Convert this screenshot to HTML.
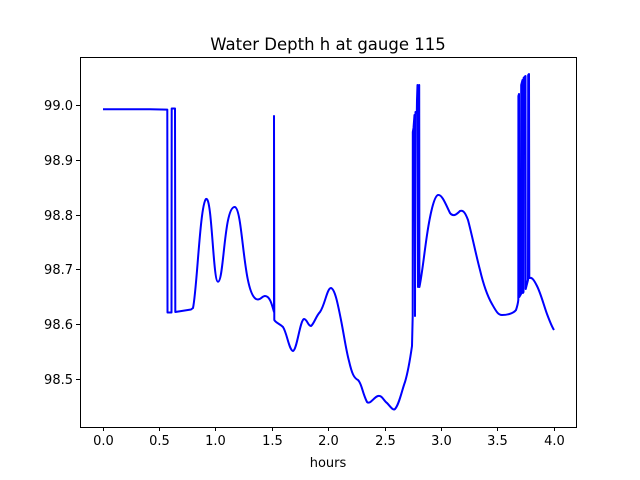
<!DOCTYPE html>
<html><head><style>
body{margin:0;background:#fff;}
svg{display:block;font-family:"DejaVu Sans","Liberation Sans",sans-serif;}
</style></head><body>
<svg width="640" height="480" xmlns="http://www.w3.org/2000/svg">
<rect width="640" height="480" fill="#fff"/>
<path fill="none" stroke="#0000ff" stroke-width="2" stroke-linejoin="round" d="
M103,109.3 L150,109.3 L167.3,109.6 L167.5,312.5 L171.5,312.5 L171.7,108.5 L175,108.5 L175.3,312 L191,309.5 L193,308 C197,290 200,205 206,199 C212,195 213,282 218,281.7 C224,282 224,205 235,207 C243,210 243,292 256,299 C260,301 262,296 265,296 C270,296 272,305 274,312 L274,116 L274.3,320 C276,323 280,324 283,327 C287,333 289,350 293,351 C297,350 300,320 304,319 C307,319 308,326 311,326 C314,324 316,316 320,312 C325,305 327,288 331,288 C335,289 338,305 341,320 C344,335 346,350 349,361 C352,374 354,378 358,380 C362,384 362,392 367,402 C370,405 374,397 378,396 C382,395 384,401 387,403 C390,406 393,411 395,409 C399,405 402,390 405,382 C408,372 410,360 412,346 L412.7,316 L412.8,132 L413.5,128 L414.5,115 L415,316 L415.5,112 L416.8,113 L417,100 L417.5,85 L418,287 L418.5,86 L419.2,85 L419.4,287 C422,275 424,255 427,235 C430,215 434,196 438,195 C442,194 446,205 450,213 C453,217 456,215 460,211 C463,210 465,212 468,220 C472,235 476,255 480,270 C484,287 488,297 492,304 C496,311 498,315 502,315 C506,315 513,314 516,310 C517,307 518,303 518.3,300 L518.4,96 L519,94 L519.3,297 L521,294 L521.2,85 L522.5,80 L522.8,293 L523.5,292 L523.6,78 L525.5,76 L525.7,289 L528,280 L528.2,75 L529,74 L529.3,278 C532,277 534,280 537,286 C541,294 544,306 547,314 C550,322 552,327 554,330"/>
<rect x="80.5" y="57.5" width="496" height="370" fill="none" stroke="#000" stroke-width="1"/>
<g stroke="#000" stroke-width="1">
<line x1="103.5" y1="427" x2="103.5" y2="431"/>
<line x1="159.5" y1="427" x2="159.5" y2="431"/>
<line x1="215.5" y1="427" x2="215.5" y2="431"/>
<line x1="272.5" y1="427" x2="272.5" y2="431"/>
<line x1="328.5" y1="427" x2="328.5" y2="431"/>
<line x1="385.5" y1="427" x2="385.5" y2="431"/>
<line x1="441.5" y1="427" x2="441.5" y2="431"/>
<line x1="497.5" y1="427" x2="497.5" y2="431"/>
<line x1="554.5" y1="427" x2="554.5" y2="431"/>
<line x1="76" y1="105.5" x2="80" y2="105.5"/>
<line x1="76" y1="160.5" x2="80" y2="160.5"/>
<line x1="76" y1="215.5" x2="80" y2="215.5"/>
<line x1="76" y1="269.5" x2="80" y2="269.5"/>
<line x1="76" y1="324.5" x2="80" y2="324.5"/>
<line x1="76" y1="379.5" x2="80" y2="379.5"/>
</g>
<g font-size="13" fill="#000" text-anchor="middle">
<text x="103.5" y="445">0.0</text>
<text x="159.5" y="445">0.5</text>
<text x="215.5" y="445">1.0</text>
<text x="272.5" y="445">1.5</text>
<text x="328.5" y="445">2.0</text>
<text x="385.5" y="445">2.5</text>
<text x="441.5" y="445">3.0</text>
<text x="497.5" y="445">3.5</text>
<text x="554.5" y="445">4.0</text>
<text x="328" y="467">hours</text>
</g>
<g font-size="13" fill="#000" text-anchor="end">
<text x="73" y="110">99.0</text>
<text x="73" y="165">98.9</text>
<text x="73" y="220">98.8</text>
<text x="73" y="274">98.7</text>
<text x="73" y="329">98.6</text>
<text x="73" y="384">98.5</text>
</g>
<text x="328" y="50" font-size="16.5" text-anchor="middle">Water Depth h at gauge 115</text>
</svg>
</body></html>
